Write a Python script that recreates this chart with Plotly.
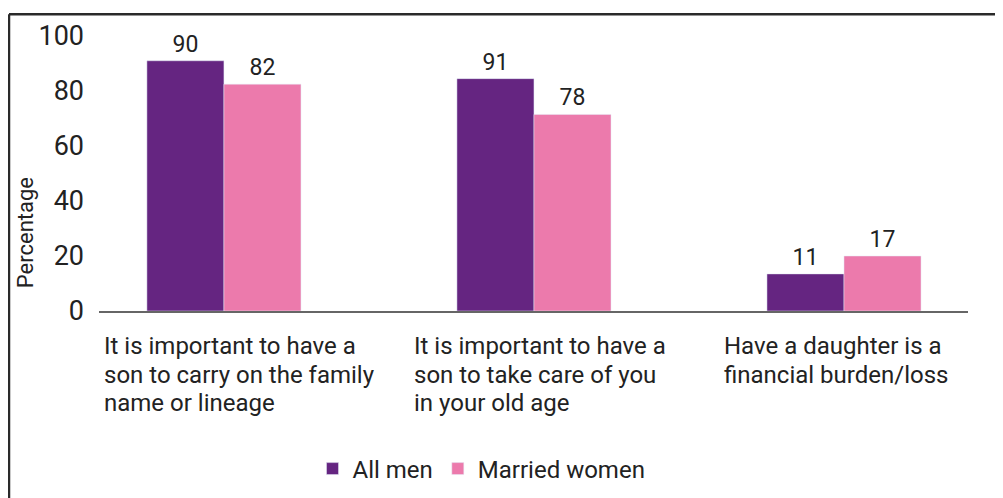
import plotly.graph_objects as go

# ---- data ----
categories = [
    "It is important to have a<br>son to carry on the family<br>name or lineage",
    "It is important to have a<br>son to take care of you<br>in your old age",
    "Have a daughter is a<br>financial burden/loss",
]
series_names = ["All men", "Married women"]
men_bar = [91, 84.5, 13.5]          # bar heights as drawn
women_bar = [82.5, 71.5, 20]
men_labels = ["90", "91", "11"]     # printed data labels
women_labels = ["82", "78", "17"]
y_ticks = [0, 20, 40, 60, 80, 100]
y_title = "Percentage"

# ---- style ----
PURPLE = "#652581"
PINK = "#EC7AAC"
TXT = "#222222"
FONT = "Roboto"

W, H = 995, 490          # page body adds an 8px margin
OFF = 8
ML, MR, MT, MB = 91, 35, 24, 187
PW = W - ML - MR
PH = H - MT - MB

x_idx = list(range(len(categories)))

fig = go.Figure()
fig.add_trace(go.Bar(
    x=x_idx, y=men_bar, name=series_names[0], marker_color=PURPLE,
    text=men_labels, textposition="outside", cliponaxis=False,
    textfont=dict(family=FONT, size=23, color=TXT),
))
fig.add_trace(go.Bar(
    x=x_idx, y=women_bar, name=series_names[1], marker_color=PINK,
    text=women_labels, textposition="outside", cliponaxis=False,
    textfont=dict(family=FONT, size=23, color=TXT),
))


def xs(screen_x):
    return (screen_x - OFF - ML) / PW


def ys(screen_y):
    return (MT + PH - (screen_y - OFF)) / PH


annotations = []
line_gap = 28.5
for i, lab in enumerate(categories):
    for j, line in enumerate(lab.split("<br>")):
        annotations.append(dict(
            x=i, xref="x", y=0, yref="paper", text=line, showarrow=False,
            xanchor="left", yanchor="middle", xshift=-122,
            yshift=-(35 + j * line_gap),
            font=dict(family=FONT, size=24, color=TXT),
        ))
annotations.append(dict(
    x=xs(25), xref="paper", y=ys(232), yref="paper", text=y_title,
    textangle=-90, showarrow=False, xanchor="center", yanchor="middle",
    font=dict(family=FONT, size=22, color=TXT),
))

shapes = [
    dict(type="line", xref="paper", yref="paper",
         x0=xs(9), x1=1.2, y0=ys(10), y1=ys(10),
         line=dict(color="#2a2a2a", width=2.5)),
    dict(type="line", xref="paper", yref="paper",
         x0=xs(9), x1=xs(9), y0=ys(10), y1=-1,
         line=dict(color="#2a2a2a", width=2.5)),
]

fig.update_layout(
    width=W, height=H,
    margin=dict(l=ML, r=MR, t=MT, b=MB),
    paper_bgcolor="white", plot_bgcolor="white",
    barmode="group", bargap=0.503, bargroupgap=0,
    font=dict(family=FONT, size=24, color=TXT),
    xaxis=dict(range=[-0.403, 2.4], showticklabels=False, ticks="",
               showgrid=False, zeroline=False,
               showline=True, linecolor="#666666", linewidth=2),
    yaxis=dict(range=[0, 100], tickvals=y_ticks, showgrid=False,
               zeroline=False, showline=False, ticks="",
               ticklabelstandoff=14,
               tickfont=dict(family=FONT, size=27, color=TXT)),
    showlegend=True,
    legend=dict(orientation="h", xref="container", yref="container",
                x=473.5 / W, xanchor="center", y=1 - 461 / H,
                yanchor="middle",
                font=dict(family=FONT, size=24, color=TXT),
                itemwidth=30, traceorder="normal"),
    annotations=annotations,
    shapes=shapes,
)

fig.write_html("out.html")
